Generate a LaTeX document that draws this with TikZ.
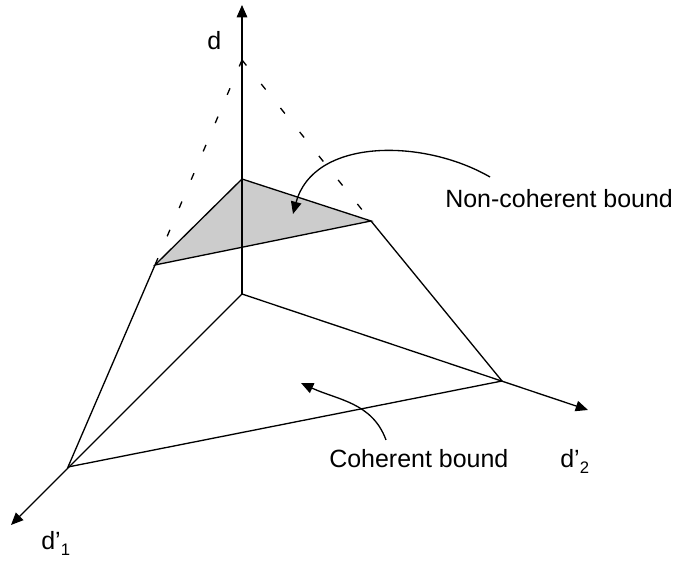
\documentclass[tikz,border=0pt]{standalone}
\usepackage{fontspec}
\setmainfont{Liberation Sans}
\usepackage{tikz}
\usetikzlibrary{arrows.meta, positioning, calc}
\definecolor{boundgray}{HTML}{CCCCCC}
\tikzset{
  axisline/.style={line width=0.75pt,-{Triangle[length=7pt,width=6pt]}},
  edgeline/.style={line width=0.75pt},
  hintarrow/.style={line width=0.75pt,-{Triangle[length=7pt,width=6pt]}},
  lbl/.style={inner sep=0pt,anchor=base west}
}

\begin{document}
\begin{tikzpicture}[font=\fontsize{14.2}{17}\selectfont]
  \useasboundingbox (0,0) rectangle (13.54,11.24);

  % corner points of the bound
  \coordinate (O)    at (4.84,5.36);
  \coordinate (apex) at (4.84,10.04);
  \coordinate (T)    at (4.84,7.66);
  \coordinate (L)    at (3.10,5.94);
  \coordinate (R)    at (7.42,6.82);
  \coordinate (P1)   at (1.36,1.90);
  \coordinate (P2)   at (10.04,3.62);
  \coordinate (dtip)  at (4.84,11.14);
  \coordinate (d1tip) at (0.22,0.74);
  \coordinate (d2tip) at (11.76,3.04);

  % shaded non-coherent face
  \fill[boundgray](T)--(L)--(R)--cycle;
  \draw[edgeline](L)--(T)--(R)--cycle;

  % axes
  \draw[axisline](O)--(dtip);
  \draw[axisline](O)--(d1tip);
  \draw[axisline](O)--(d2tip);

  % dashed lines up to the apex
  \draw[edgeline,dash pattern=on 4pt off 13.5pt](apex)--(L);
  \draw[edgeline,dash pattern=on 4pt off 13.5pt](apex)--(R);

  % outer edges
  \draw[edgeline](L)--(P1)--(P2)--(R);

  % labels
  \node[lbl] (dlab)  at (4.14,10.24){d};
  \node[lbl] (d1lab) at (0.82,0.24){d’\raisebox{-0.45ex}{\fontsize{9.5}{11}\selectfont 1}};
  \node[lbl] (d2lab) at (11.20,1.88){d’\raisebox{-0.45ex}{\fontsize{9.5}{11}\selectfont 2}};
  \node[lbl] (noncoh) at (8.90,7.08){Non-coherent bound};
  \node[lbl] (coh)    at (6.58,1.88){Coherent bound};

  % pointers
  \coordinate (ncstart) at (9.80,7.70);
  \coordinate (ncend)   at (5.86,6.96);
  \draw[hintarrow](ncstart) to[out=150,in=75] (ncend);
  \coordinate (cstart) at (7.72,2.44);
  \coordinate (cend)   at (6.02,3.58);
  \draw[hintarrow](cstart) to[out=110,in=-25] (cend);
\end{tikzpicture}
\end{document}
